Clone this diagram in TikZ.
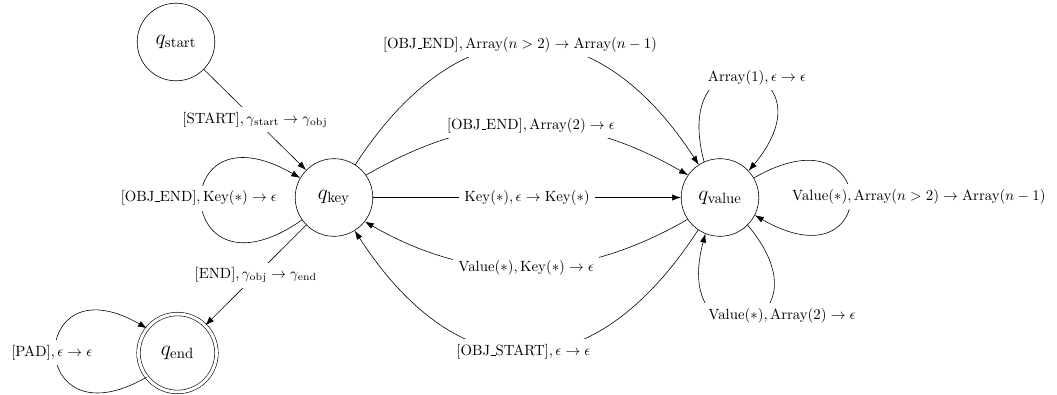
\documentclass[tikz,border=0pt]{standalone}
\usepackage{amsmath}
\usetikzlibrary{arrows.meta}
\newcommand{\ubar}{\kern.06em\vbox{\hrule width.3em}}
\newcommand{\tk}[1]{\text{#1}}
\begin{document}
\begin{tikzpicture}[x=0.675pt,y=0.675pt,
  st/.style={circle,draw,minimum size=52.4pt,inner sep=0pt,font=\Large},
  acc/.style={st,double,double distance=2pt,minimum size=52.6pt},
  lbl/.style={fill=white,inner sep=3.3pt},
  arr/.style={-{Latex[length=6pt,width=4.2pt]}},
  ]
\useasboundingbox (0,0) rectangle (1057,394);
\fill[white] (0,0) rectangle (1057,394);
\node[st] (start) at (176,352) {$q_{\mathrm{start}}$};
\node[st] (key) at (334,196.5) {$q_{\mathrm{key}}$};
\node[acc] (end) at (177.5,41) {$q_{\mathrm{end}}$};
\node[st] (value) at (720,196.5) {$q_{\mathrm{value}}$};

\draw[arr] (start) -- node[lbl]{$[\tk{START}], \gamma_{\mathrm{start}}\rightarrow\gamma_{\mathrm{obj}}$} (key);
\draw[arr] (key) -- node[lbl]{$[\tk{END}], \gamma_{\mathrm{obj}}\rightarrow\gamma_{\mathrm{end}}$} (end);
\draw[arr] (key) -- node[lbl]{$\tk{Key}(\ast), \epsilon\rightarrow\tk{Key}(\ast)$} (value);
\draw[arr] (key.57) .. controls +(57:191) and +(123:191) .. node[lbl,xshift=-4.7pt]{$[\tk{OBJ\ubar END}], \tk{Array}(n>2)\rightarrow\tk{Array}(n-1)$} (value.123);
\draw[arr] (key.35) .. controls +(30:131) and +(150:131) .. node[lbl,xshift=2.7pt]{$[\tk{OBJ\ubar END}], \tk{Array}(2)\rightarrow\epsilon$} (value.145);
\draw[arr] (value.214) .. controls +(210:126) and +(-30:126) .. node[lbl]{$\tk{Value}(\ast), \tk{Key}(\ast)\rightarrow\epsilon$} (key.-38);
\draw[arr] (value.236) .. controls +(237:193) and +(-57:193) .. node[lbl,xshift=-2pt]{$[\tk{OBJ\ubar START}], \epsilon\rightarrow\epsilon$} (key.-58);
\draw[arr] (key.215) .. controls +(215:157) and +(150:157) .. node[lbl,xshift=-2pt,yshift=3.4pt]{$[\tk{OBJ\ubar END}], \tk{Key}(\ast)\rightarrow\epsilon$} (key.150);
\draw[arr] (end.218) .. controls +(210:140) and +(150:140) .. node[lbl,xshift=-2.7pt]{$[\tk{PAD}], \epsilon\rightarrow\epsilon$} (end.141);
\draw[arr] (value.114) .. controls +(105:140) and +(50:140) .. node[lbl,xshift=7.1pt,yshift=-1.6pt]{$\tk{Array}(1), \epsilon\rightarrow\epsilon$} (value.43);
\draw[arr] (value.30) .. controls +(30:147) and +(-30:147) .. node[lbl,xshift=46.6pt]{$\tk{Value}(\ast), \tk{Array}(n>2)\rightarrow\tk{Array}(n-1)$} (value.-27);
\draw[arr] (value.-45) .. controls +(-50:140) and +(-105:140) .. node[lbl,xshift=23.9pt,yshift=3.4pt]{$\tk{Value}(\ast), \tk{Array}(2)\rightarrow\epsilon$} (value.-112);
\end{tikzpicture}
\end{document}
